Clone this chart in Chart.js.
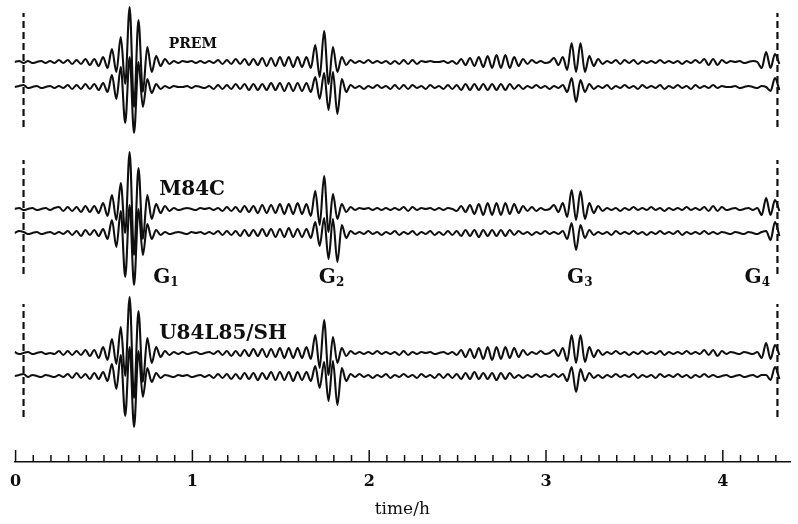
<!DOCTYPE html>
<html lang="en">
<head>
<meta charset="UTF-8">
<title>Surface wave traces</title>
<script src="https://cdn.jsdelivr.net/npm/chart.js"></script>
<style>
  html, body { margin: 0; padding: 0; background: #fff; }
</style>
</head>
<body>
<canvas id="traces" width="798" height="524"></canvas>
<script>
// traces are sampled at every half cycle (hours)
const sampleStep = 0.025;
const firstSample = -0.005;

const tickLabels = [0, 1, 2, 3, 4];
const windowStart = 0.045;
const windowEnd = 4.309;

const models = ['PREM', 'M84C', 'U84L85/SH'];
const arrivals = ['1', '2', '3', '4'];

const premUpper = [
  0, 1, -1, 1, -1, 0, 1, -1, 1, -1, 2, -1, 2, -2, 2, -2, 3, -3, 3, -4, 5, -6,
  13, -10, 25, -22, 55, -45, 42, -30, 15, -10, 6, -4, 3, -2,
  1, -1, 1, 0, 1, -1, 1, -1, 1,
  -1, 2, -2, 2, -2, 3, -2, 3, -3, 3, -3, 4, -4, 4, -4, 5, -4, 5, -5, 5, -5, 5,
  -6, 17, -15, 31, -22, 15, -10, 5, -3, 2,
  -1, 1, -1, 2, -1, 1, -1, 1, -2, 1, -2, 2, -2, 2, -2, 1, 0, 1, 0, 0, 1, -1, 1,
  -2, 3, -3, 4, -4, 5, -5, 6, -6, 7, -6, 7, -6, 5, -4, 3, -2, 2, -1, 1, -1, 0,
  4, -3, 5, -8, 19, -10, 19, -10, 6, -4, 3, -2,
  1, -1, 2, -2, 2, -1, 2, -2, 1, -1, 1, -1, 2, -1, 1, -1, 1, -2, 1, -1, 2, -1,
  3, -3, 3, -3, 2, -1, 1, 0, 1, -1, 0, 1, 0,
  -6, 10, -6, 8, -2
];
const premLower = [
  0, 1, 2, -1, 0, 1, -1, 0, 1, -1, 1, -1, 2, -2, 2, -2, 3, -2, 3, -3,
  4, -5, 12, -12, 20, -36, 30, -46, 25, -20, 8, -6, 3, -2,
  1, -1, 1, 0, 0, 1, -1, 1, 0, -1,
  1, -2, 2, -2, 2, -2, 3, -2, 3, -3, 3, -3, 3, -3, 4, -3, 4, -4, 4, -4, 4, -4, 4,
  -5, 10, -12, 14, -23, 15, -27, 8, -5, 2,
  -1, 1, -2, 1, -1, 2, -1, 1, -2, 2, -2, 2, -2, 2, -1, 1, -2, 2, -1, 1, -2, 2, -2, 2,
  -3, 3, -3, 3, -3, 3, -3, 3, -3, 3, -3, 3, -2,
  2, -2, 1, -1, 2, -1, 1, -2, 1, -1,
  2, -5, 9, -15, 7, -5, 3, -2,
  1, -1, 2, -2, 1, -1, 2, -1, 1, -2, 2, -1, 1, -1, 2, -2, 1, -1, 2, -1, 1, -2, 2, -1, 1, -1, 2, -1,
  1, 0, 0, 1, -1, 0, 1, 0, -1, 1,
  0, -4, 9, -3
];
const m84cUpper = [
  0, 1, -1, 0, 1, -1, 0, 1, -1, 1, 2, -2, 2, -2, 2, -3, 3, -3, 3, -4, 6, -7,
  14, -11, 26, -24, 57, -46, 41, -30, 14, -10, 5, -4, 3, -2,
  1, -1, 0, 1, 0, -1, 1, 0, 1,
  -1, 1, -2, 2, -2, 2, -3, 3, -3, 3, -4, 4, -4, 4, -4, 5, -5, 5, -5, 6, -5, 5,
  -7, 18, -16, 33, -23, 15, -10, 5, -3, 2,
  -1, 1, 0, 1, -1, 1, -1, 1, -1, 1, -1, 2, -2, 2, -1, 1, 0, 1, -1, 1, -1, 1, 0,
  -2, 3, -3, 4, -5, 5, -6, 6, -6, 6, -6, 6, -5, 5, -4, 3, -2, 2, -2, 1, -1, 0,
  4, -3, 6, -8, 19, -11, 18, -10, 6, -4, 3, -2,
  1, -1, 1, -2, 1, -1, 2, -1, 1, -1, 2, -1, 1, -2, 1, -1, 1, -1, 2, -1, 1, -1,
  2, -2, 3, -2, 2, -1, 0, 1, -1, 0, 1, -1, 1,
  -6, 11, -6, 9, -2
];
const m84cLower = [
  0, 2, 1, -1, 0, 1, -1, 0, 1, -1, 1, -1, 2, -2, 2, -3, 3, -2, 3, -3,
  4, -6, 13, -14, 22, -44, 28, -52, 24, -22, 9, -6, 3, -2,
  1, -1, 0, 1, 0, -1, 1, 0, 1, -1,
  1, -1, 2, -2, 2, -2, 2, -3, 3, -3, 3, -3, 4, -3, 4, -4, 4, -4, 5, -4, 4, -4, 4,
  -5, 11, -13, 15, -26, 14, -29, 8, -5, 2,
  -1, 1, -1, 2, -1, 1, -2, 1, -1, 2, -2, 1, -1, 2, -2, 1, -1, 2, -2, 1, -2, 2, -2, 2,
  -3, 3, -3, 3, -4, 3, -3, 3, -3, 3, -3, 3, -2,
  2, -1, 1, -2, 1, -1, 2, -1, 1, -1,
  2, -6, 10, -17, 8, -5, 3, -2,
  1, -1, 1, -2, 2, -1, 1, -1, 2, -1, 1, -2, 1, -1, 2, -1, 1, -1, 2, -2, 1, -1, 1, -1, 2, -1, 1, -1,
  1, 0, -1, 1, 0, -1, 1, 0, -1, 1,
  2, -7, 11, -3
];
const u84Upper = [
  1, -1, 0, 1, -1, 0, 1, -1, 0, -1, 2, -2, 2, -2, 2, -2, 3, -3, 3, -5, 6, -7,
  14, -11, 26, -23, 56, -45, 42, -29, 15, -10, 6, -4, 2, -2,
  1, -1, 1, -1, 0, 1, -1, 0, 1,
  -1, 2, -2, 2, -3, 2, -3, 3, -3, 4, -3, 4, -4, 4, -4, 5, -5, 5, -5, 5, -5, 6,
  -6, 18, -15, 33, -22, 16, -10, 5, -3, 2,
  -1, 1, -1, 1, -1, 2, -1, 1, -1, 1, -2, 2, -2, 1, -1, 1, 0, 1, -1, 0, 1, -1, 1,
  -2, 3, -4, 4, -5, 5, -6, 6, -7, 6, -6, 6, -5, 5, -4, 3, -2, 1, -1, 2, -1, 0,
  3, -3, 5, -8, 18, -10, 18, -9, 6, -4, 3, -2,
  1, -1, 2, -1, 1, -2, 1, -1, 2, -1, 1, -1, 2, -2, 1, -1, 1, -1, 2, -1, 1, -1,
  3, -2, 3, -3, 2, -1, 1, 0, -1, 1, 0, -1, 1,
  -5, 10, -6, 8, -2
];
const u84Lower = [
  0, 1, 2, -1, 1, 0, -1, 1, 0, -1, 1, -1, 2, -2, 3, -2, 2, -3, 3, -3,
  4, -5, 12, -13, 21, -40, 29, -51, 25, -21, 8, -6, 3, -2,
  1, 0, -1, 1, 0, 1, -1, 0, 1, -1,
  1, -2, 2, -2, 2, -3, 2, -3, 3, -3, 3, -4, 3, -3, 4, -4, 4, -4, 4, -5, 4, -4, 4,
  -5, 10, -12, 14, -25, 15, -29, 8, -5, 2,
  -1, 2, -1, 1, -2, 1, -1, 2, -2, 1, -1, 2, -1, 1, -2, 2, -1, 1, -2, 2, -2, 2, -2, 2,
  -3, 3, -3, 4, -3, 3, -3, 3, -4, 3, -3, 3, -2,
  1, -2, 1, -1, 2, -1, 1, -1, 2, -1,
  2, -5, 9, -16, 7, -5, 3, -2,
  1, -2, 1, -1, 2, -1, 1, -1, 2, -2, 1, -1, 1, -2, 2, -1, 1, -1, 2, -1, 1, -2, 1, -1, 2, -1, 1, -1,
  0, 1, -1, 0, 1, -1, 0, 1, -1, 1,
  1, -4, 9, -3
];

// vertical layout: y axis runs 0 (time axis) .. 462 (top of page)
const traceBase = [400, 375, 253, 229, 109, 86];
const panelSpan = [[335, 449], [188, 302], [45, 158]];
const ink = '#0f0f0f';

function toPoints(amps, base) {
  return amps.map((a, i) => ({ x: firstSample + i * sampleStep, y: base + a }));
}

const traces = [premUpper, premLower, m84cUpper, m84cLower, u84Upper, u84Lower];
const datasets = traces.map((amps, k) => ({
  data: toPoints(amps, traceBase[k]),
  borderColor: ink,
  borderWidth: 2.1,
  pointRadius: 0,
  cubicInterpolationMode: 'monotone'
}));
panelSpan.forEach(([lo, hi]) => {
  [windowStart, windowEnd].forEach(t => {
    datasets.push({
      data: [{ x: t, y: lo }, { x: t, y: hi }],
      borderColor: ink,
      borderWidth: 2.2,
      borderDash: [7, 4],
      pointRadius: 0
    });
  });
});

const labelSpots = [
  { text: models[0], t: 0.866, y: 414, size: 14 },
  { text: models[1], t: 0.812, y: 267, size: 20 },
  { text: models[2], t: 0.812, y: 123, size: 20 }
];
const arrivalSpots = [0.778, 1.715, 3.119, 4.123];

const decorations = {
  id: 'decorations',
  afterDraw(chart) {
    const { ctx, scales: { x, y } } = chart;
    const axisY = chart.chartArea.bottom;
    ctx.save();
    ctx.strokeStyle = ink;
    ctx.lineWidth = 1.5;
    x.ticks.forEach(tick => {
      const px = x.getPixelForValue(tick.value);
      const len = tickLabels.includes(tick.value) ? 12 : 7;
      ctx.beginPath();
      ctx.moveTo(px, axisY);
      ctx.lineTo(px, axisY - len);
      ctx.stroke();
    });
    ctx.fillStyle = ink;
    ctx.textBaseline = 'alphabetic';
    ctx.textAlign = 'left';
    labelSpots.forEach(l => {
      ctx.font = 'bold ' + l.size + 'px "DejaVu Serif"';
      ctx.fillText(l.text, x.getPixelForValue(l.t), y.getPixelForValue(l.y));
    });
    arrivals.forEach((sub, k) => {
      const px = x.getPixelForValue(arrivalSpots[k]);
      const py = y.getPixelForValue(179);
      ctx.font = 'bold 20px "DejaVu Serif"';
      ctx.fillText('G', px, py);
      const w = ctx.measureText('G').width;
      ctx.font = 'bold 12px "DejaVu Serif"';
      ctx.fillText(sub, px + w, py + 3);
    });
    ctx.restore();
  }
};

new Chart(document.getElementById('traces'), {
  type: 'line',
  data: { datasets },
  options: {
    responsive: false,
    animation: false,
    devicePixelRatio: 1,
    layout: { padding: { left: 13, right: 8, top: 0, bottom: 0 } },
    plugins: { legend: { display: false }, tooltip: { enabled: false } },
    scales: {
      x: {
        type: 'linear',
        min: -0.006,
        max: 4.38,
        afterFit: s => { s.height = 62; },
        grid: { display: false, drawTicks: false },
        border: { display: true, color: ink, width: 1.5 },
        ticks: {
          stepSize: 0.1,
          includeBounds: false,
          autoSkip: false,
          maxRotation: 0,
          padding: 10,
          color: ink,
          font: { family: 'DejaVu Serif', weight: 'bold', size: 16 },
          callback: v => tickLabels.includes(v) ? String(v) : ''
        },
        title: {
          display: true,
          text: 'time/h',
          color: ink,
          font: { family: 'DejaVu Serif', size: 17 },
          padding: { top: 0, bottom: 4 }
        }
      },
      y: { display: false, min: 0, max: 462 }
    }
  },
  plugins: [decorations]
});
</script>
</body>
</html>
